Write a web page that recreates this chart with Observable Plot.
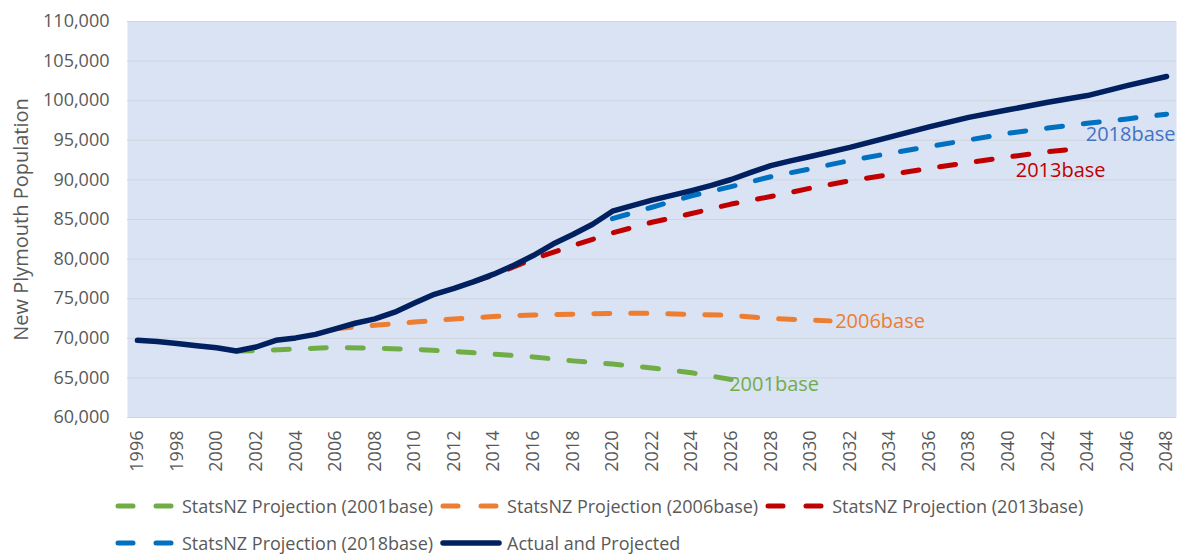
<!DOCTYPE html>
<html><head><meta charset="utf-8">
<script src="https://cdn.jsdelivr.net/npm/d3@7"></script>
<script src="https://cdn.jsdelivr.net/npm/@observablehq/plot@0.6"></script>
<style>
body{margin:0;background:#fff;font-family:"Open Sans",sans-serif;}
#chart{position:relative;width:1180px;height:555px;overflow:hidden;}
.legend{position:absolute;left:115px;color:#595959;font-size:18px;display:flex;align-items:center;white-space:nowrap;}
.item{display:flex;align-items:center;margin-right:7px;}
.item svg{margin-right:5px;display:block;}
</style></head><body><div id="chart"></div><script>
// Actual and projected population
const actualYears = [1996,1997,1998,1999,2000,2001,2002,2003,2004,2005,2006,2007,2008,2009,2010,2011,2012,2013,2014,2015,2016,2017,2018,2019,2020,2021,2022,2023,2024,2025,2026,2027,2028,2029,2030,2032,2034,2036,2038,2040,2042,2044,2046,2048];
const actualValues = [69750,69600,69350,69050,68800,68400,68900,69750,70050,70500,71200,71900,72450,73300,74450,75550,76300,77150,78100,79200,80450,81900,83100,84400,86050,86750,87450,88050,88650,89300,90050,90950,91800,92400,92950,94100,95400,96700,97900,98850,99800,100650,101900,103050];
// StatsNZ 2001base
const p2001Years = [2001,2002,2004,2006,2008,2010,2012,2014,2016,2018,2020,2022,2024,2026];
const p2001Values = [68400,68450,68650,68850,68750,68600,68350,68000,67650,67150,66750,66250,65650,64800];
// StatsNZ 2006base
const p2006Years = [2006,2008,2010,2012,2014,2016,2018,2020,2022,2024,2026,2028,2031];
const p2006Values = [71200,71650,72050,72450,72750,72950,73050,73150,73150,73000,72900,72500,72200];
// StatsNZ 2013base
const p2013Years = [2013,2014,2016,2018,2020,2022,2024,2026,2028,2030,2032,2034,2036,2038,2040,2042,2043];
const p2013Values = [77150,78000,80000,81700,83300,84650,85750,86950,87900,88950,89900,90650,91450,92200,92900,93550,93800];
// StatsNZ 2018base
const p2018Years = [2020,2022,2024,2026,2028,2030,2032,2034,2036,2038,2040,2042,2044,2046,2048];
const p2018Values = [85100,86550,88000,89150,90400,91400,92450,93350,94200,95050,95900,96550,97150,97700,98300];

const seriesNames = ["StatsNZ Projection (2001base)","StatsNZ Projection (2006base)","StatsNZ Projection (2013base)","StatsNZ Projection (2018base)","Actual and Projected"];
const endLabels = ["2001base","2006base","2013base","2018base"];
const colors = ["#70AD47","#ED7D31","#C00000","#0070C0","#002060"];
const labelColors = ["#70AD47","#ED7D31","#C00000","#4472C4"];
const xTicks = d3.range(1996, 2049, 2);
const yTicks = d3.range(60000, 110001, 5000);

const toRows = (ys, vs) => ys.map((y, i) => ({year: y, value: vs[i]}));
const actual = toRows(actualYears, actualValues);
const proj = [toRows(p2001Years, p2001Values), toRows(p2006Years, p2006Values), toRows(p2013Years, p2013Values), toRows(p2018Years, p2018Values)];

const dashOpts = {strokeWidth: 5, strokeDasharray: "16,21", strokeLinecap: "round", strokeLinejoin: "round"};
const labelOffsets = [
  {textAnchor: "start", dx: -2, dy: 5},
  {textAnchor: "start", dx: 5, dy: 1},
  {textAnchor: "middle", dx: -7, dy: 21},
  {textAnchor: "end", dx: 9, dy: 20}
];

const marks = [
  Plot.frame({fill: "#DAE3F3", stroke: null}),
  Plot.gridY(yTicks, {stroke: "#D0D5DD", strokeOpacity: 1, strokeWidth: 1}),
  Plot.axisY(yTicks, {tickSize: 0, tickPadding: 18, tickFormat: d3.format(","), fontSize: 18, label: "New Plymouth Population", labelAnchor: "center", labelArrow: "none", labelOffset: 114}),
  Plot.axisX(xTicks, {tickSize: 0, tickPadding: 13, tickFormat: d3.format("d"), tickRotate: -90, fontSize: 18, label: null})
];
proj.forEach((rows, i) => {
  marks.push(Plot.line(rows, {x: "year", y: "value", stroke: colors[i], ...dashOpts}));
});
marks.push(Plot.line(actual, {x: "year", y: "value", stroke: colors[4], strokeWidth: 5.5, strokeLinecap: "round", strokeLinejoin: "round"}));
proj.forEach((rows, i) => {
  marks.push(Plot.text([rows[rows.length - 1]], {x: "year", y: "value", text: () => endLabels[i], fill: labelColors[i], fontSize: 20, ...labelOffsets[i]}));
});

const chart = Plot.plot({
  width: 1180, height: 475,
  marginLeft: 127, marginRight: 4, marginTop: 21, marginBottom: 58,
  style: {fontFamily: "Open Sans, sans-serif", fontSize: "18px", color: "#595959", background: "#fff"},
  x: {domain: [1995.5, 2048.5]},
  y: {domain: [60000, 110000]},
  marks
});
const root = document.getElementById("chart");
root.appendChild(chart);
chart.querySelectorAll("g[aria-label='y-axis label'] text").forEach(t => t.setAttribute("font-size", "20"));

// Legend
const rows = [[0,1,2],[3,4]];
const rowTops = [494, 531];
rows.forEach((items, r) => {
  const div = d3.select(root).append("div").attr("class", "legend").style("top", rowTops[r] + "px");
  items.forEach(i => {
    const it = div.append("div").attr("class", "item");
    const svg = it.append("svg").attr("width", 62).attr("height", 12);
    const line = svg.append("line").attr("x1", 3).attr("x2", 58).attr("y1", 6).attr("y2", 6)
      .attr("stroke", colors[i]).attr("stroke-linecap", "round");
    if (i < 4) line.attr("stroke-width", 5).attr("stroke-dasharray", "15,23");
    else line.attr("x2", 59).attr("stroke-width", 5.5);
    it.append("span").text(seriesNames[i]);
  });
});
</script></body></html>
